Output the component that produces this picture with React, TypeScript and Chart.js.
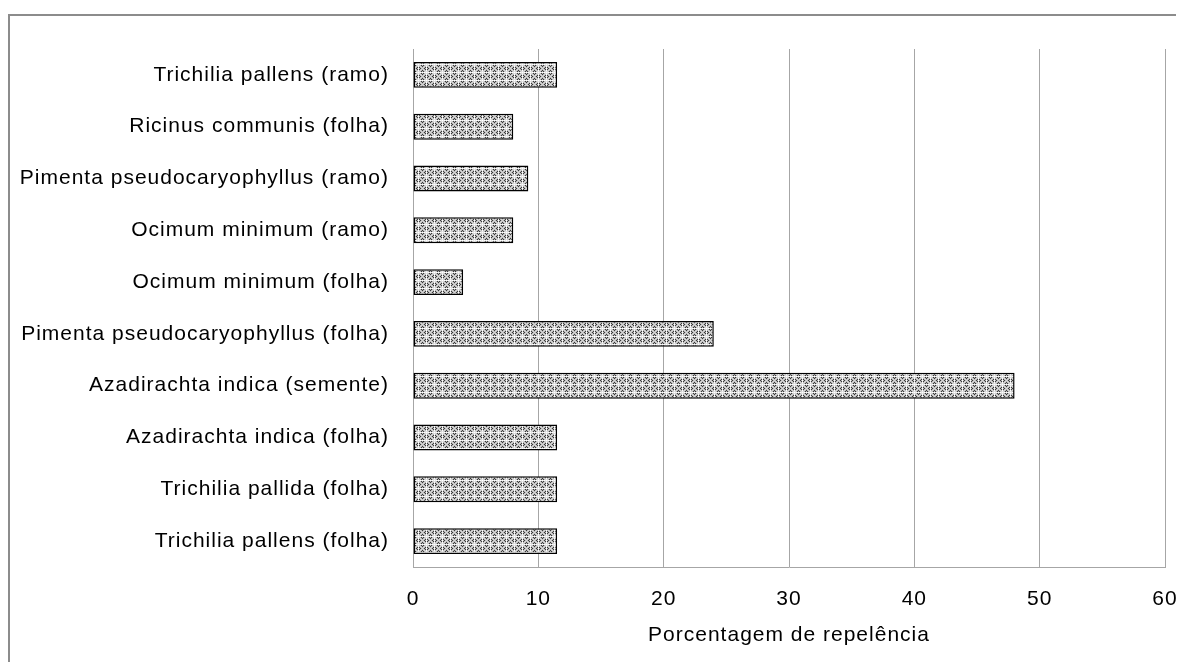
import React, { useEffect, useRef } from "react";
import { Chart, registerables } from "chart.js";

Chart.register(...registerables);

const categories = [
  "Trichilia pallens (ramo)",
  "Ricinus communis (folha)",
  "Pimenta pseudocaryophyllus (ramo)",
  "Ocimum minimum (ramo)",
  "Ocimum minimum (folha)",
  "Pimenta pseudocaryophyllus (folha)",
  "Azadirachta indica (semente)",
  "Azadirachta indica (folha)",
  "Trichilia pallida (folha)",
  "Trichilia pallens (folha)",
];
const repelencia = [11.5, 8, 9.2, 8, 4, 24, 48, 11.5, 11.5, 11.5];
const xTitle = "Porcentagem de repelência";
const xMin = 0;
const xMax = 60;
const xStep = 10;

function makePattern(): CanvasPattern | string {
  const c = document.createElement("canvas");
  c.width = 8;
  c.height = 8;
  const g = c.getContext("2d");
  if (!g) return "#999";
  for (let y = 0; y < 8; y++) {
    for (let x = 0; x < 8; x++) {
      let col = (x + y) % 2 === 0 ? "#3a3a3a" : "#b8b8b8";
      if (x === 0 || y === 0) col = (x + y) % 2 === 0 ? "#ffffff" : "#e6e6e6";
      else if ((x === y || x === 8 - y) && (x + y) % 2 === 0) col = "#d8d8d8";
      g.fillStyle = col;
      g.fillRect(x, y, 1, 1);
    }
  }
  const p = g.createPattern(c, "repeat");
  return p || "#999";
}

const spacingPlugin = {
  id: "letterSpacing",
  beforeLayout: (chart: any) => {
    (chart.ctx as any).letterSpacing = "1px";
  },
  beforeDraw: (chart: any) => {
    (chart.ctx as any).letterSpacing = "1px";
  },
};

export default function App() {
  const ref = useRef<HTMLCanvasElement>(null);
  useEffect(() => {
    if (!ref.current) return;
    const pattern = makePattern();
    const font = { family: "'Liberation Sans', Arial, sans-serif", size: 21 };
    const chart = new Chart(ref.current, {
      type: "bar",
      data: {
        labels: categories,
        datasets: [
          {
            data: repelencia,
            backgroundColor: pattern as any,
            borderColor: "#000000",
            borderWidth: 1.5,
            borderSkipped: false,
            barPercentage: 0.5,
            categoryPercentage: 1,
          },
        ],
      },
      plugins: [spacingPlugin],
      options: {
        indexAxis: "y",
        animation: false,
        responsive: false,
        maintainAspectRatio: false,
        layout: { padding: { top: 33, right: 19, bottom: 10, left: 0 } },
        plugins: { legend: { display: false }, tooltip: { enabled: false } },
        scales: {
          x: {
            min: xMin,
            max: xMax,
            ticks: { stepSize: xStep, color: "#000", font, padding: 20, maxRotation: 0 },
            grid: { color: "#a6a6a6", drawTicks: false, lineWidth: 1 },
            border: { display: true, color: "#a6a6a6" },
            title: {
              display: true,
              text: xTitle,
              color: "#000",
              font,
              padding: { top: 4, bottom: 4 },
            },
            afterFit: (s: any) => {
              s.height = 85;
              s.paddingLeft = 0;
              s.paddingRight = 0;
            },
          },
          y: {
            ticks: { color: "#000", font, padding: 24, autoSkip: false },
            grid: { display: false, drawTicks: false },
            border: { display: true, color: "#a6a6a6" },
            afterFit: (s: any) => {
              s.width = 403;
              s.paddingTop = 0;
              s.paddingBottom = 0;
            },
          },
        },
      },
    });
    return () => chart.destroy();
  }, []);
  return (
    <div
      style={{
        position: "relative",
        marginTop: 6,
        width: 1176,
        height: 648,
        boxSizing: "border-box",
        borderTop: "2px solid #8c8c8c",
        borderLeft: "2px solid #8c8c8c",
        overflow: "hidden",
      }}
    >
      <canvas ref={ref} width={1174} height={646} style={{ display: "block", width: 1174, height: 646 }} />
    </div>
  );
}
